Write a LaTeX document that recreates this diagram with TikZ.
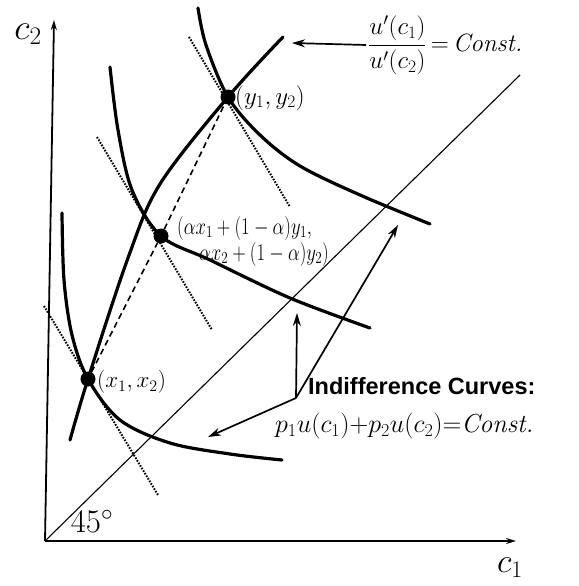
\RequirePackage{fix-cm}
\documentclass[tikz,border=0pt]{standalone}
\usepackage{graphicx}
\usepackage{fontspec}
\newfontfamily\sansb{Liberation Sans}
\usetikzlibrary{arrows.meta}
\newcommand\nx[1]{\scalebox{0.78}[1]{#1}}
\begin{document}
\begin{tikzpicture}[x=1pt,y=-1pt,
  thickcurve/.style={line width=3.2pt,line cap=round},
  axisline/.style={line width=1.8pt,-{Stealth[length=10pt,width=6pt]}},
  diag/.style={line width=1.1pt},
  tangent/.style={line width=2pt,dash pattern=on 1.6pt off 1.4pt},
  dashline/.style={line width=1.6pt,dash pattern=on 6pt off 4pt},
  dot/.style={circle,fill=black,inner sep=0pt,minimum size=15pt},
  pointer/.style={line width=1.7pt,-{Stealth[length=13pt,width=8pt]}},
  lbl/.style={inner sep=0pt,font=\fontsize{23}{25}\selectfont}]
\useasboundingbox (0,0) rectangle (578,586);
% axes
\coordinate (O) at (45,541);
\coordinate (xend) at (516,541);
\coordinate (yend) at (54,20);
\draw[axisline] (O) -- (xend);
\draw[axisline] (O) -- (yend);
\node[inner sep=0pt,font=\fontsize{36}{36}\selectfont] (c2) at (28,34) {$c_2$};
\node[inner sep=0pt,font=\fontsize{34}{34}\selectfont] (c1) at (510,568) {$c_1$};
% 45 degree line
\coordinate (d45) at (520,75);
\draw[diag] (O) -- (d45);
\node[inner sep=0pt,font=\fontsize{33}{33}\selectfont] (ang) at (92,522) {45$^\circ$};
% points
\coordinate (Xp) at (88,379);
\coordinate (Mp) at (161,236);
\coordinate (Yp) at (228,97);
% indifference curves
\draw[thickcurve] plot[smooth,tension=0.55] coordinates {(62,213) (64,280) (72,335) (88,379) (120,420) (170,443) (230,454) (282,460)};
\draw[thickcurve] plot[smooth,tension=0.55] coordinates {(110,67) (118,130) (132,190) (161,236) (210,260) (290,298) (370,328)};
\draw[thickcurve] plot[smooth,tension=0.55] coordinates {(198,8) (206,45) (228,97) (260,135) (300,166) (360,195) (430,224)};
% expansion path
\draw[thickcurve] plot[smooth,tension=0.55] coordinates {(70,440) (88,379) (128,258) (160,184) (228,97) (283,37)};
% tangents
\draw[tangent] (44,306) -- (158,495);
\draw[tangent] (97,137) -- (212,330);
\draw[tangent] (189,37) -- (290,207);
% dots
\node[dot] (X) at (Xp) {};
\node[dot] (M) at (Mp) {};
\node[dot] (Y) at (Yp) {};
\draw[dashline] (X) -- (M) -- (Y);
% point labels
\node[lbl,anchor=west,font=\fontsize{25}{27}\selectfont] (Yl) at (235,98) {$(y_1, y_2)$};
\node[lbl,anchor=west] (Xl) at (97,382) {$(x_1, x_2)$};
\node[lbl,anchor=west,font=\fontsize{24}{26}\selectfont] (Ml1) at (177,228) {\nx{$(\alpha x_1 + (1-\alpha)y_1,$}};
\node[lbl,anchor=west,font=\fontsize{24}{26}\selectfont] (Ml2) at (199,254) {\nx{$\alpha x_2 + (1-\alpha)y_2)$}};
% ratio label
\node[inner sep=0pt,anchor=west,font=\fontsize{25}{27}\selectfont] (frac) at (368,45)
  {$\displaystyle\frac{u'(c_1)}{u'(c_2)}\,{=}\,$\textit{Const.}};
\coordinate (fa) at (292,43);
\draw[pointer] ([xshift=-2pt]frac.west) -- (fa);
% indifference label
\node[inner sep=0pt,anchor=west,font=\fontsize{23.5}{26}\selectfont\sansb\bfseries] (ic) at (308,386) {Indifference Curves:};
\node[inner sep=0pt,anchor=west,font=\fontsize{26}{28}\selectfont] (icf) at (275,426)
  {$p_1u(c_1){+}p_2u(c_2){=}$\textit{Const.}};
\coordinate (J) at (296,398);
\coordinate (T1) at (208,437);
\coordinate (T2) at (297,313);
\coordinate (T3) at (398,225);
\draw[pointer] (J) -- (T3);
\draw[pointer] (J) -- (T2);
\draw[pointer] (J) -- (T1);
\end{tikzpicture}
\end{document}
